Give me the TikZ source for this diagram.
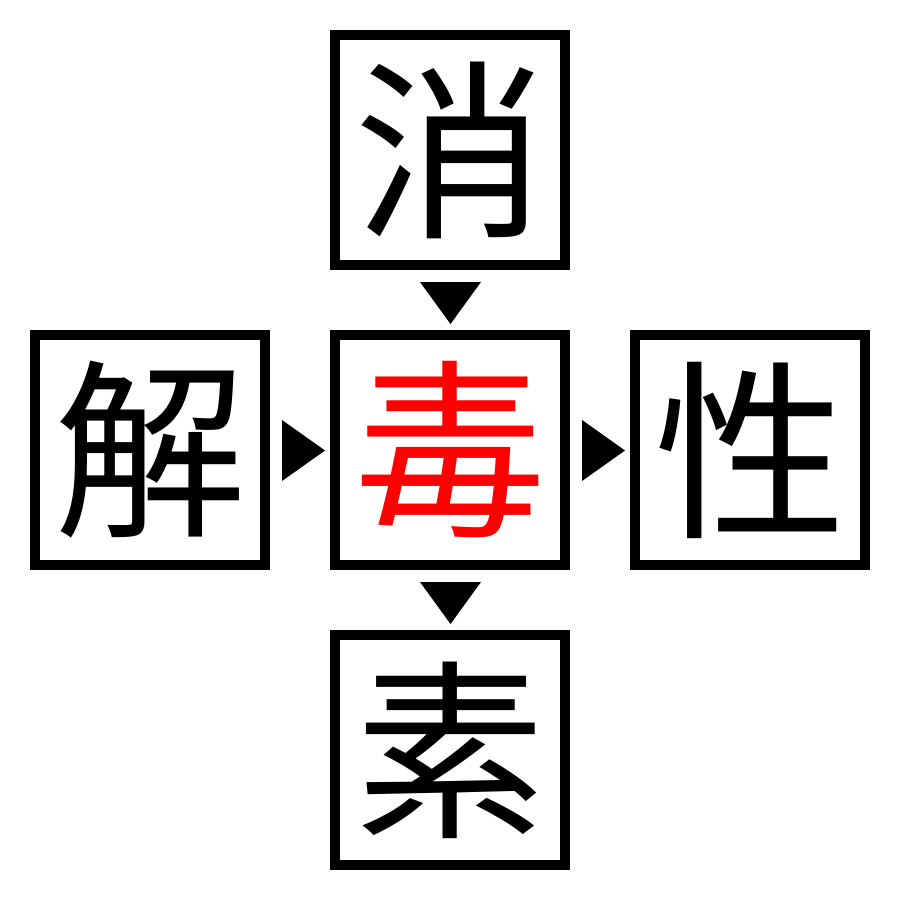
\documentclass[tikz,border=0pt]{standalone}
\usepackage{fontspec}
\newfontfamily\cjk{Noto Sans CJK JP}
\definecolor{pured}{RGB}{255,0,0}
\begin{document}
\begin{tikzpicture}[x=1pt,y=-1pt,
  charbox/.style={draw=black,line width=10pt,minimum size=230pt,inner sep=0pt,font=\cjk\fontsize{192}{192}\selectfont,text=black},
  tri/.style={fill=black,draw=none}]
\useasboundingbox (0,0) rectangle (900,900);
\node[charbox] (top) at (450,150) {消};
\node[charbox] (left) at (150,450) {解};
\node[charbox,text=pured] (mid) at (450,450) {毒};
\node[charbox] (right) at (750,450) {性};
\node[charbox] (bot) at (450,750) {素};
\fill[tri] (420,282) -- (481,282) -- (450.5,324) -- cycle;
\fill[tri] (420,582) -- (481,582) -- (450.5,624) -- cycle;
\fill[tri] (282,420) -- (282,481) -- (325,450.5) -- cycle;
\fill[tri] (582,420) -- (582,481) -- (625,450.5) -- cycle;
\end{tikzpicture}
\end{document}
